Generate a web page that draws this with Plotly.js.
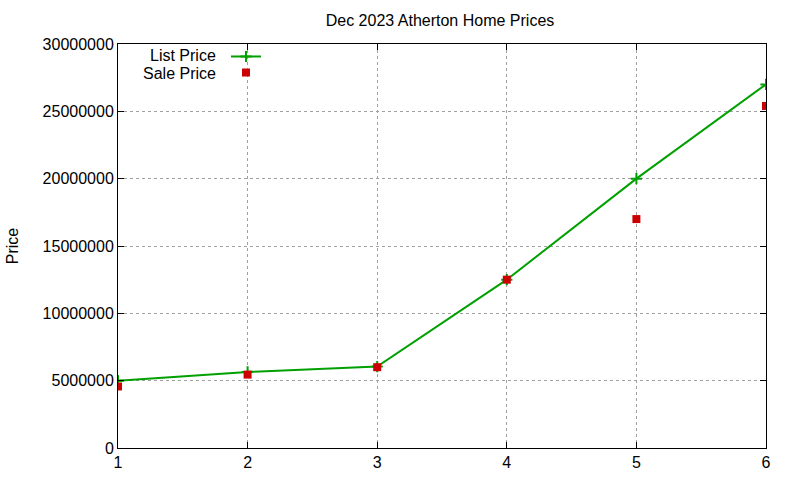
<!DOCTYPE html>
<html>
<head>
<meta charset="utf-8">
<script src="https://cdn.plot.ly/plotly-3.0.1.min.js"></script>
<style>html,body{margin:0;padding:0;background:#fff}#chart{width:800px;height:480px}</style>
</head>
<body>
<div id="chart"></div>
<script>
const x = [1, 2, 3, 4, 5, 6];
const listPrice = [5000000, 5650000, 6050000, 12500000, 20000000, 27000000];
const salePrice = [4570000, 5450000, 6000000, 12500000, 17000000, 25400000];
const seriesNames = ['List Price', 'Sale Price'];
const titleText = 'Dec 2023 Atherton Home Prices';
const yTitle = 'Price';

const FONT = 'Liberation Sans, Arial, sans-serif';

const traces = [
  {
    x: x, y: listPrice, name: seriesNames[0], type: 'scatter', mode: 'lines+markers',
    legend: 'legend',
    line: {color: '#00a000', width: 2},
    marker: {symbol: 'cross-thin', size: 8, color: '#00a000', line: {color: '#00a000', width: 2}}
  },
  {
    x: x, y: salePrice, name: seriesNames[1], type: 'scatter', mode: 'markers',
    legend: 'legend2',
    marker: {symbol: 'square', size: 8, color: '#cc0000'}
  }
];

const legendCommon = {
  xanchor: 'left', yanchor: 'top',
  bgcolor: 'rgba(0,0,0,0)', font: {size: 12, color: 'rgba(0,0,0,0)'}
};

const layout = {
  width: 800, height: 480,
  margin: {l: 118, r: 34, t: 44, b: 32},
  paper_bgcolor: '#fff', plot_bgcolor: '#fff',
  font: {family: FONT, size: 16, color: '#000'},
  title: {text: titleText, font: {family: FONT, size: 16}, x: 0.55, xanchor: 'center', y: 0.958, yanchor: 'middle'},
  showlegend: true,
  legend: Object.assign({x: 0.1667, y: 1.005}, legendCommon),
  legend2: Object.assign({x: 0.1667, y: 0.9653}, legendCommon),
  xaxis: {
    range: [1, 6], dtick: 1, tick0: 1,
    showgrid: true, gridcolor: '#a0a0a0', griddash: 'dot', gridwidth: 1,
    showline: true, linecolor: '#000', linewidth: 1, mirror: 'ticks',
    ticks: 'inside', ticklen: 6, tickcolor: '#000',
    zeroline: false, tickfont: {family: FONT, size: 16}
  },
  yaxis: {
    range: [0, 30000000], dtick: 5000000, tickformat: 'd',
    showgrid: true, gridcolor: '#a0a0a0', griddash: 'dot', gridwidth: 1,
    showline: true, linecolor: '#000', linewidth: 1, mirror: 'ticks',
    ticks: 'inside', ticklen: 6, tickcolor: '#000',
    zeroline: false, tickfont: {family: FONT, size: 16},
    title: {text: yTitle, font: {family: FONT, size: 16}, standoff: 20}
  },
  annotations: [
    {xref: 'paper', yref: 'paper', x: 0.1543, y: 0.9725, xanchor: 'right', yanchor: 'middle',
     text: seriesNames[0], showarrow: false, font: {family: FONT, size: 16}},
    {xref: 'paper', yref: 'paper', x: 0.1543, y: 0.9282, xanchor: 'right', yanchor: 'middle',
     text: seriesNames[1], showarrow: false, font: {family: FONT, size: 16}}
  ]
};

Plotly.newPlot('chart', traces, layout, {displayModeBar: false, staticPlot: true});
</script>
</body>
</html>
